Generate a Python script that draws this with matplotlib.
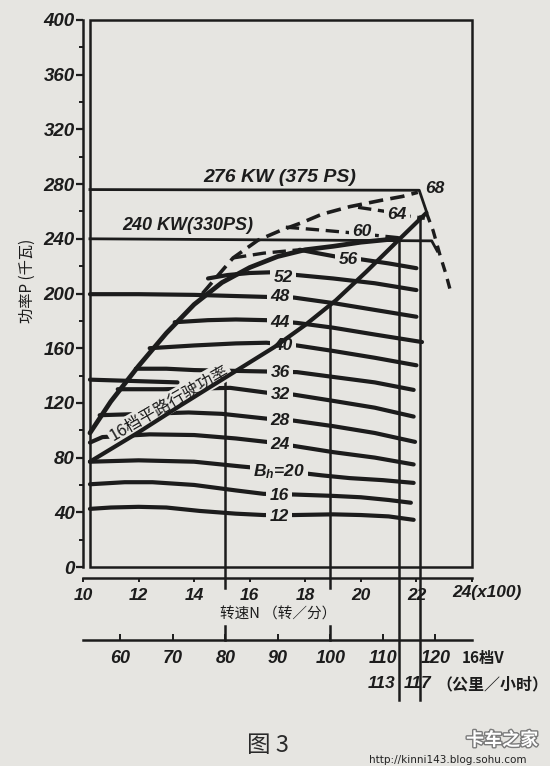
import matplotlib
matplotlib.use('Agg')
import matplotlib.pyplot as plt
from matplotlib.patches import Rectangle
import matplotlib.patheffects as pe

# ---------------- data ----------------
p_ticks = [0, 40, 80, 120, 160, 200, 240, 280, 320, 360, 400]
p_minor = [20, 60, 100, 140, 180, 220, 260, 300, 340, 380]
rpm_ticks = [10, 12, 14, 16, 18, 20, 22, 24]
rpm_ticklabels = ['10', '12', '14', '16', '18', '20', '22', '']
speed_ticks = [60, 70, 80, 90, 100, 110, 120]
speed_per_rpm = 5.29          # km/h per 100 r/min in 16th gear

# full-load power, 240 kW engine (solid)
fl240_rpm = [10.25, 11.0, 12.0, 13.0, 14.0, 15.0, 16.0, 17.0, 18.0, 19.0, 20.0, 21.0, 21.4]
fl240_p = [98, 121, 147, 171, 192, 208, 219, 227, 232, 234.5, 237.5, 239.5, 240]
# full-load power, 276 kW engine (dashed)
fl276_rpm = [14.3, 15.4, 16.3, 17.1, 17.9, 18.6, 19.6, 20.7, 21.5, 22.05]
fl276_p = [200, 226, 239, 246, 252, 258, 263.5, 268, 271, 274]
rated276_rpm = [10.25, 22.1, 22.36]
rated276_p = [276, 275.5, 260]
rated240_rpm = [10.25, 22.55, 22.75]
rated240_p = [240, 238.5, 231]
governor_rpm = [22.36, 22.6, 22.85, 23.05, 23.25]
governor_p = [259, 246, 228, 215, 200]
# 16th gear level-road power
road16_rpm = [10.25, 12.0, 13.5, 15.0, 16.9, 18.0, 19.1, 20.2, 21.3, 22.36]
road16_p = [77, 98.5, 118, 137, 161, 177, 195, 216, 238, 259]
marker136_rpm = [10.25, 13.4]
marker136_p = [137, 135]

# iso fuel-rate lines B_h (kg/h)
bh12_rpm = [10.25, 11.0, 12.0, 13.0, 14.2, 15.5, 16.5, 17.6, 19.0, 20.0, 21.0, 21.9]
bh12_p = [42.5, 43.5, 44, 43.5, 41, 39, 38, 38, 38.5, 38, 37, 34.5]
bh16_rpm = [10.25, 11.5, 12.5, 14.0, 15.5, 16.5, 17.6, 19.0, 20.0, 21.0, 21.8]
bh16_p = [60.5, 62, 62, 60, 56, 53.5, 53, 52, 51, 49, 47]
bh20_rpm = [10.25, 12.0, 14.0, 15.7, 16.5, 18.6, 19.6, 20.8, 21.9]
bh20_p = [77, 78, 77, 73.5, 72, 67, 65, 63.5, 61.5]
bh24_rpm = [10.25, 10.7, 12.4, 14.0, 15.5, 16.6, 17.6, 19.0, 20.5, 21.9]
bh24_p = [91, 95, 97, 96.5, 94, 91.5, 88.5, 84, 80, 75]
bh28_rpm = [10.6, 11.4, 13.8, 15.0, 16.6, 17.6, 19.0, 20.5, 21.95]
bh28_p = [111, 111.5, 113, 112, 108.5, 107, 103, 98, 91.5]
bh32_rpm = [11.25, 12.9, 15.3, 16.6, 17.6, 19.0, 20.5, 21.9]
bh32_p = [130, 130, 131, 127.5, 126, 121.5, 116.5, 110]
bh36_rpm = [11.9, 13.0, 14.0, 16.5, 17.7, 19.0, 20.5, 21.9]
bh36_p = [145, 145, 144, 143, 142.5, 139, 135, 129.5]
bh40_rpm = [12.4, 14.0, 15.5, 16.6, 17.7, 19.0, 20.5, 22.0]
bh40_p = [160, 162, 163.5, 164, 162, 158, 153, 147.5]
bh44_rpm = [13.3, 14.5, 15.5, 16.6, 17.7, 19.0, 20.5, 22.2]
bh44_p = [179, 180.5, 181, 180.5, 178.5, 175, 170, 164.5]
bh48_rpm = [10.25, 12.0, 14.0, 16.6, 17.6, 19.0, 20.5, 22.0]
bh48_p = [199.5, 199.5, 199, 197.5, 197, 193, 188, 183]
bh52_rpm = [14.5, 15.2, 16.0, 16.75, 17.7, 19.0, 20.5, 22.0]
bh52_p = [211, 213.5, 215, 215.5, 213.5, 211, 207.5, 202.5]
bh56_dash_rpm = [15.4, 16.5, 17.8]
bh56_dash_p = [226, 229.5, 232]
bh56_rpm = [17.8, 18.3, 19.1, 20.0, 21.0, 22.0]
bh56_p = [232, 230, 227, 225, 222, 218.5]
bh60_rpm = [17.3, 18.5, 19.6, 20.4, 21.5]
bh60_p = [248.5, 246.5, 244.5, 242.8, 240.5]
bh64_rpm = [19.9, 20.9, 21.75, 22.3]
bh64_p = [263, 260, 256.5, 255]

# speed marks (km/h) with the power where each vertical line starts
speed_marks = [80, 100, 113, 117]
speed_mark_top_p = [137, 194, 239, 257]

# ---------------- style ----------------
W, H = 550, 766
BG = '#e6e5e1'
INK = '#1c1c1c'
CJK = ['Noto Sans CJK SC', 'DejaVu Sans']
NUM = ['Liberation Sans', 'DejaVu Sans']
plt.rcParams['font.family'] = CJK
plt.rcParams['mathtext.fontset'] = 'custom'
plt.rcParams['mathtext.it'] = 'Liberation Sans:italic:bold'
plt.rcParams['mathtext.rm'] = 'Liberation Sans:bold'


def fx(px):
    return px / W


def fy(py):
    return 1 - py / H


fig = plt.figure(figsize=(W / 100, H / 100), dpi=100)
fig.patch.set_facecolor(BG)
ax = fig.add_axes([fx(83), fy(567), (472 - 83) / W, (567 - 20) / H])
ax.set_facecolor(BG)
ax.set_xlim(10, 24)
ax.set_ylim(0, 400)

for s in ['top', 'right']:
    ax.spines[s].set_visible(False)
ax.spines['left'].set_linewidth(1.8)
ax.spines['left'].set_color(INK)
ax.spines['bottom'].set_linewidth(1.8)
ax.spines['bottom'].set_color(INK)
ax.spines['bottom'].set_position(('outward', 8))

# inner frame
ax.add_patch(Rectangle((10.25, 0), 24 - 10.25, 400, fill=False, ec=INK, lw=1.8,
                       zorder=1, clip_on=False))

numfont = dict(family=NUM, fontweight='bold', fontstyle='italic', color=INK)
ax.set_yticks(p_ticks, labels=[str(v) for v in p_ticks], fontsize=13.5, **numfont)
ax.set_yticks(p_minor, minor=True)
ax.tick_params(axis='y', which='major', length=5, width=1.6, pad=1, colors=INK)
ax.tick_params(axis='y', which='minor', length=3, width=1.4, colors=INK)
ax.set_xticks(rpm_ticks, labels=rpm_ticklabels, fontsize=12.5, **numfont)
ax.tick_params(axis='x', which='major', length=3, width=1.4, pad=4, colors=INK)
fig.text(fx(452), fy(593), '24(x100)', ha='left', va='center', fontsize=12.5, **numfont)

# speed axis (16th gear)
sec = ax.secondary_xaxis(-(640 - 567) / 547,
                         functions=(lambda r: r * speed_per_rpm, lambda v: v / speed_per_rpm))
sec.set_xticks(speed_ticks, labels=[str(v) for v in speed_ticks], fontsize=13, **numfont)
sec.tick_params(direction='in', length=4, width=1.4, pad=7, colors=INK)
sec.spines['bottom'].set_linewidth(1.8)
sec.spines['bottom'].set_color(INK)
sec.spines['top'].set_visible(False)

# ---------------- curves ----------------
iso = dict(color=INK, lw=3.0, solid_capstyle='round', zorder=2)
dash = dict(color=INK, lw=2.4, linestyle=(0, (4, 2)), zorder=2)

for r, p in [(bh12_rpm, bh12_p), (bh16_rpm, bh16_p), (bh20_rpm, bh20_p), (bh24_rpm, bh24_p),
             (bh28_rpm, bh28_p), (bh32_rpm, bh32_p), (bh36_rpm, bh36_p), (bh40_rpm, bh40_p),
             (bh44_rpm, bh44_p), (bh48_rpm, bh48_p), (bh52_rpm, bh52_p), (bh56_rpm, bh56_p),
             (marker136_rpm, marker136_p)]:
    ax.plot(r, p, **iso)
for r, p in [(bh56_dash_rpm, bh56_dash_p), (bh60_rpm, bh60_p), (bh64_rpm, bh64_p)]:
    ax.plot(r, p, **dash)

ax.plot(rated276_rpm, rated276_p, color=INK, lw=2.0, zorder=4)
ax.plot(rated240_rpm, rated240_p, color=INK, lw=2.0, zorder=4)
ax.plot(fl240_rpm, fl240_p, color=INK, lw=3.4, solid_capstyle='round', zorder=4)
ax.plot(fl276_rpm, fl276_p, color=INK, lw=2.6, linestyle=(0, (4, 2)), zorder=4)
ax.plot(governor_rpm, governor_p, color=INK, lw=2.4, linestyle=(0, (3, 2.2)), zorder=4,
        clip_on=False)
ax.plot(road16_rpm, road16_p, color=INK, lw=3.0, solid_capstyle='round', zorder=4)

# vertical speed lines
xt = ax.get_xaxis_transform()
for v, ptop in zip(speed_marks, speed_mark_top_p):
    r = v / speed_per_rpm
    if v in (80, 100):
        ax.plot([r, r], [ptop / 400, -(588 - 567) / 547], transform=xt, color=INK, lw=1.8,
                clip_on=False, zorder=3)
        ax.plot([r, r], [-(626 - 567) / 547, -(640 - 567) / 547], transform=xt, color=INK,
                lw=1.8, clip_on=False, zorder=3)
    else:
        ax.plot([r, r], [ptop / 400, -(700 - 567) / 547], transform=xt, color=INK, lw=1.8,
                clip_on=False, zorder=3)

# ---------------- labels ----------------
lab = dict(ha='center', va='center', fontsize=12.5, zorder=3,
           bbox=dict(boxstyle='square,pad=0.2', fc=BG, ec='none'), **numfont)
for s, x, y in [('12', 17.05, 37), ('16', 17.05, 52), ('24', 17.1, 89.5), ('28', 17.1, 107),
                ('32', 17.1, 126), ('36', 17.1, 142.5), ('40', 17.2, 162), ('44', 17.1, 179),
                ('48', 17.1, 197.5), ('52', 17.2, 212), ('56', 19.55, 225), ('60', 20.05, 245.5),
                ('64', 21.3, 257.5)]:
    ax.text(x, y, s, **lab)
ax.text(17.05, 70, r'$B_h$=20', **lab)
ax.text(22.65, 277, '68', ha='center', va='center', fontsize=12.5, zorder=5, **numfont)

ax.text(17.09, 284.5, '276 KW (375 PS)', ha='center', va='center', fontsize=14, zorder=5,
        **numfont)
ax.text(13.78, 249.4, '240 KW(330PS)', ha='center', va='center', fontsize=13, zorder=5,
        **numfont)

ax.text(13.1, 120, '16档平路行驶功率', rotation=30, rotation_mode='anchor', ha='center',
        va='center', fontsize=12, family=CJK, color=INK, zorder=3,
        bbox=dict(boxstyle='square,pad=0.12', fc=BG, ec='none'))

fig.text(fx(27), fy(281), '功率P (千瓦)', rotation=90, ha='center', va='center', fontsize=11,
         family=CJK, color=INK)
fig.text(fx(278), fy(615), '转速N （转／分）', ha='center', va='center', fontsize=10.5,
         family=CJK, color=INK)
fig.text(fx(462), fy(658), '16档V', ha='left', va='center', fontsize=11, family=CJK,
         fontweight='bold', color=INK)
fig.text(fx(395), fy(684), '113', ha='right', va='center', fontsize=12.5, **numfont)
fig.text(fx(418), fy(684), '117', ha='center', va='center', fontsize=12.5, **numfont)
fig.text(fx(436), fy(684), '（公里／小时）', ha='left', va='center', fontsize=11.5,
         family=CJK, fontweight='bold', color=INK)
fig.text(fx(268), fy(745), '图 3', ha='center', va='center', fontsize=17, family=CJK,
         color='#2a2a2a')
fig.text(fx(502), fy(740), '卡车之家', ha='center', va='center', fontsize=13, family=CJK,
         fontweight='bold', color='white',
         path_effects=[pe.withStroke(linewidth=2, foreground='#7a7a7a')])
fig.text(fx(448), fy(760), 'http://kinni143.blog.sohu.com', ha='center', va='center',
         fontsize=7.5, family=['DejaVu Sans'], color='#222222')

fig.savefig('out.png', dpi=100, facecolor=BG)
